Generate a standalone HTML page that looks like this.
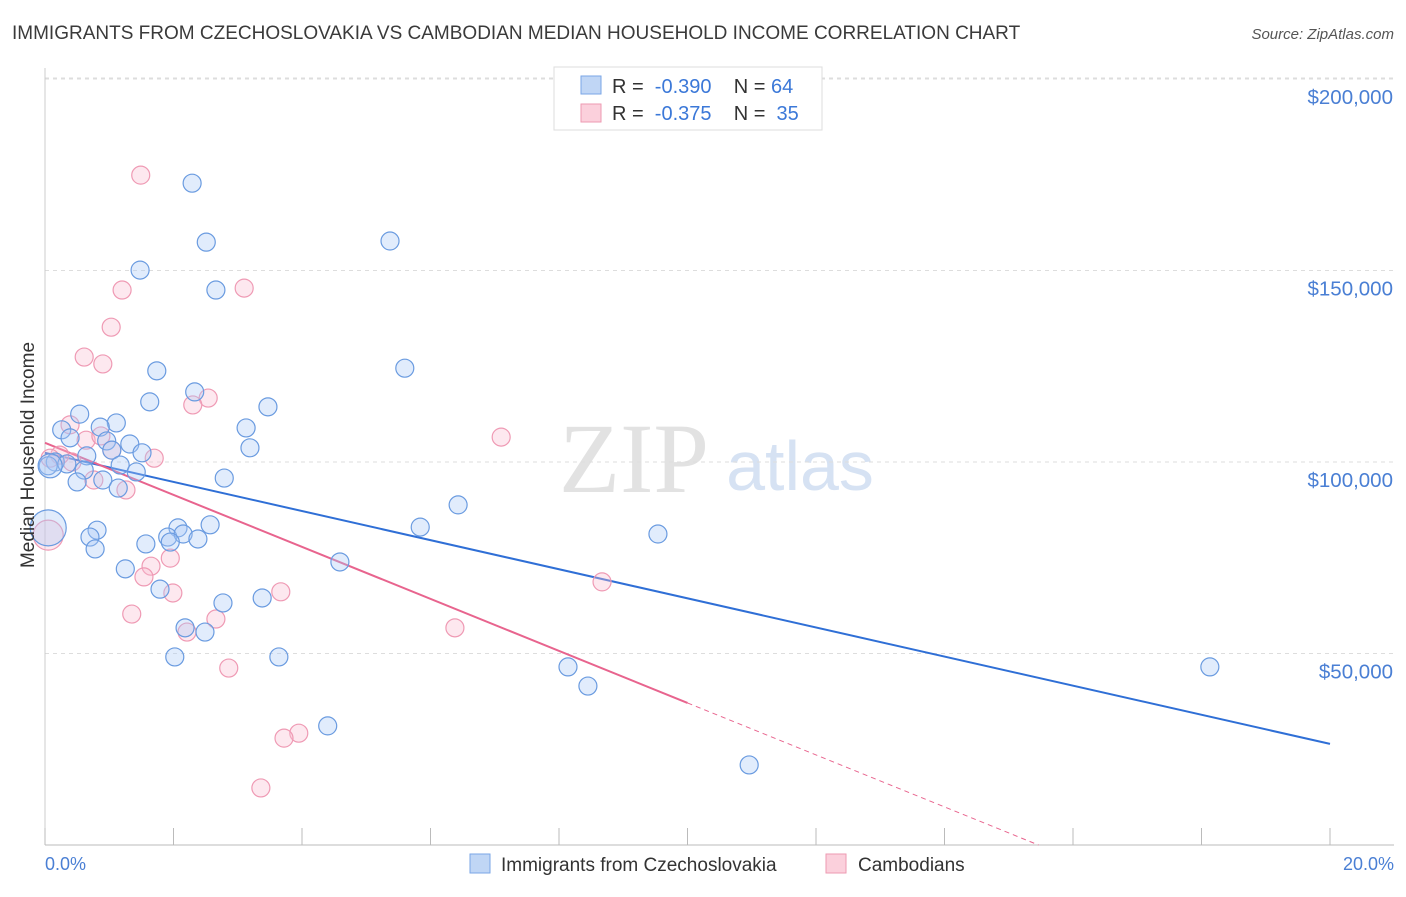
<!DOCTYPE html>
<html><head><meta charset="utf-8"><style>
body{margin:0;background:#fff;font-family:"Liberation Sans",sans-serif;}
svg text{font-family:"Liberation Sans",sans-serif;}
</style></head><body>
<svg id="chart" width="1406" height="892" xmlns="http://www.w3.org/2000/svg">
<text x="12" y="39" font-size="19" fill="#3a3a3a">IMMIGRANTS FROM CZECHOSLOVAKIA VS CAMBODIAN MEDIAN HOUSEHOLD INCOME CORRELATION CHART</text>
<text x="1394" y="39" font-size="15" fill="#555" text-anchor="end" font-style="italic">Source: ZipAtlas.com</text>
<text x="634" y="492" font-size="100" fill="#e2e2e2" text-anchor="middle" style="font-family:'Liberation Serif',serif">ZIP</text>
<text x="800" y="490" font-size="70" fill="#d6e2f3" text-anchor="middle">atlas</text>
<g id="grid"></g><g id="axes"></g><g id="lines"></g><g id="pts"></g>
<text x="34" y="455" font-size="19" fill="#333" text-anchor="middle" transform="rotate(-90 34 455)">Median Household Income</text>
<text x="45" y="870" font-size="18" fill="#4a7fd4">0.0%</text>
<text x="1394" y="870" font-size="18" fill="#4a7fd4" text-anchor="end">20.0%</text>
<g>
<rect x="554" y="67" width="268" height="63" fill="#fff" stroke="#ddd"/>
<rect x="581" y="76" width="20" height="18" fill="#c0d6f5" stroke="#7aa6e6"/>
<text x="612" y="93" font-size="20" fill="#333" xml:space="preserve">R =  <tspan fill="#3b78d8">-0.390</tspan>    N = <tspan fill="#3b78d8">64</tspan></text>
<rect x="581" y="104" width="20" height="18" fill="#fbd0dc" stroke="#ee9ab2"/>
<text x="612" y="120" font-size="20" fill="#333" xml:space="preserve">R =  <tspan fill="#3b78d8">-0.375</tspan>    N =  <tspan fill="#3b78d8">35</tspan></text>
</g>
<g>
<rect x="470" y="854" width="20" height="19" fill="#c0d6f5" stroke="#7aa6e6"/>
<text x="501" y="871" font-size="19" fill="#333">Immigrants from Czechoslovakia</text>
<rect x="826" y="854" width="20" height="19" fill="#fbd0dc" stroke="#ee9ab2"/>
<text x="858" y="871" font-size="19" fill="#333">Cambodians</text>
</g>
</svg>
<script>
const blueX=[2.29,2.51,5.37,1.48,2.66,5.60,1.74,2.33,1.63,3.47,0.54,1.11,0.26,0.86,3.13,0.39,1.32,0.96,3.19,1.51,0.65,1.04,0.16,0.34,0.05,1.17,1.42,0.61,2.79,0.50,0.90,1.14,6.43,5.84,2.57,0.81,2.07,9.54,0.70,1.91,2.15,2.38,1.57,1.95,0.78,4.59,1.25,1.79,2.77,3.38,2.18,2.49,2.02,3.64,8.14,18.13,8.45,4.40,10.96,0.05,0.08];
const blueY=[172.8,157.4,157.7,150.1,144.9,124.5,123.8,118.3,115.7,114.4,112.5,110.2,108.4,109.1,108.9,106.3,104.7,105.5,103.7,102.4,101.6,103.1,100.0,99.5,99.0,99.2,97.4,97.9,95.8,94.8,95.3,93.2,88.8,83.0,83.6,82.2,82.8,81.2,80.4,80.4,81.2,79.9,78.6,79.1,77.3,73.9,72.1,66.8,63.2,64.5,56.7,55.6,49.1,49.1,46.5,46.5,41.5,31.1,20.9,82.8,99.0];
const blueR=[9,9,9,9,9,9,9,9,9,9,9,9,9,9,9,9,9,9,9,9,9,9,9,9,9,9,9,9,9,9,9,9,9,9,9,9,9,9,9,9,9,9,9,9,9,9,9,9,9,9,9,9,9,9,9,9,9,9,9,18,12];
const pinkX=[1.49,1.20,3.10,1.03,0.61,0.90,2.54,2.30,0.39,0.64,0.87,1.04,1.70,0.42,0.23,0.08,0.76,1.26,7.10,1.95,1.65,1.54,1.99,3.67,8.67,1.35,2.66,2.21,6.38,2.86,3.95,3.72,3.36,0.05];
const pinkY=[174.9,144.9,145.4,135.2,127.4,125.6,116.7,114.9,109.7,105.7,106.8,103.1,101.0,100.0,101.8,101.0,95.3,92.7,106.5,74.9,72.8,70.0,65.8,66.1,68.7,60.3,59.0,55.6,56.7,46.2,29.2,27.9,14.9,80.9];
const pinkR=[9,9,9,9,9,9,9,9,9,9,9,9,9,9,9,9,9,9,9,9,9,9,9,9,9,9,9,9,9,9,9,9,9,15];
const blueTrend=[102.4,-3.8];
const pinkTrend=[105.0,-6.79];
const yTicks=[50,100,150,200];
const yTickLabels=["$50,000","$100,000","$150,000","$200,000"];
const xTicks=[0,2,4,6,8,10,12,14,16,18,20];
const NS="http://www.w3.org/2000/svg";
const X0=45,X1=1330,Y0=845,YK=191.5/50;
const sx=v=>X0+(X1-X0)*v/20, sy=v=>Y0-v*YK;
function mk(tag,attrs,parent){const e=document.createElementNS(NS,tag);for(const k in attrs)e.setAttribute(k,attrs[k]);document.getElementById(parent).appendChild(e);return e;}
yTicks.forEach((t,i)=>{
 const l=mk('line',{x1:X0,x2:1394,y1:sy(t),y2:sy(t),stroke:'#ddd','stroke-dasharray':'4,4'},'grid');
 
 
 const tx=mk('text',{x:1393,y:sy(t)+25,'font-size':20.5,fill:'#4a7fd4','text-anchor':'end'},'grid');
 tx.textContent=yTickLabels[i];
 
 
});
const g0=mk('line',{x1:X0,x2:1394,y1:78,y2:78,stroke:'#ddd','stroke-dasharray':'4,4'},'grid');


const ax=mk('line',{x1:X0,x2:1394,y1:Y0,y2:Y0,stroke:'#bbb'},'axes');


const ay=mk('line',{x1:X0,x2:X0,y1:68,y2:Y0,stroke:'#ccc'},'axes');


xTicks.forEach(t=>{
 const l=mk('line',{x1:sx(t),x2:sx(t),y1:Y0,y2:Y0-17,stroke:'#bbb'},'axes');
 
 
});
function pts(xs,ys,rs,fill,stroke,name){xs.forEach((x,i)=>{
 const c=mk('circle',{cx:sx(x),cy:sy(ys[i]),r:rs[i],fill:fill,stroke:stroke,'stroke-width':1.2},'pts');
 
 
});}
pts(pinkX,pinkY,pinkR,'rgba(248,190,210,0.35)','#ef9ab4','cambodian-point');
pts(blueX,blueY,blueR,'rgba(170,200,245,0.35)','#6a9be0','czech-point');
const bl=mk('line',{x1:sx(0),y1:sy(blueTrend[0]),x2:sx(20),y2:sy(blueTrend[0]+blueTrend[1]*20),stroke:'#2f6fd6','stroke-width':2},'lines');


const pl=mk('line',{x1:sx(0),y1:sy(pinkTrend[0]),x2:sx(10),y2:sy(pinkTrend[0]+pinkTrend[1]*10),stroke:'#e8648e','stroke-width':2},'lines');


const xz=-pinkTrend[0]/pinkTrend[1];
const pd=mk('line',{x1:sx(10),y1:sy(pinkTrend[0]+pinkTrend[1]*10),x2:sx(xz),y2:sy(0),stroke:'#e8648e','stroke-width':1,'stroke-dasharray':'5,4'},'lines');


</script>
</body></html>
